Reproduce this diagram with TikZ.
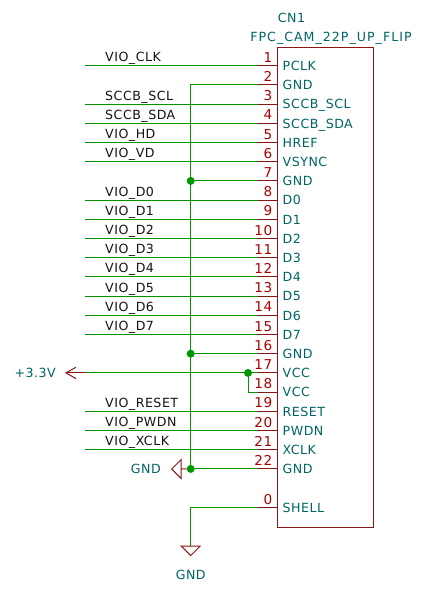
\documentclass[tikz,border=0pt]{standalone}
\usepackage{fontspec}
\setmainfont[LetterSpace=4]{DejaVu Sans}
\newfontfamily\widefont[LetterSpace=8]{DejaVu Sans}
\usetikzlibrary{calc}
\definecolor{wirec}{RGB}{0,150,0}
\definecolor{pinc}{RGB}{140,20,20}
\definecolor{pintext}{RGB}{169,0,0}
\definecolor{symtext}{RGB}{0,100,100}
\definecolor{nettext}{RGB}{20,20,20}
\newcommand{\kf}{\fontsize{12.6}{14}\selectfont}
\newcommand{\kn}{\fontsize{13.6}{14}\selectfont}
\tikzset{
  wire/.style={draw=wirec,line width=1pt},
  pinline/.style={draw=pinc,line width=1pt},
  symline/.style={draw=pinc,line width=1pt,line join=miter},
  junct/.style={circle,fill=wirec,inner sep=0pt,minimum size=8pt},
  pinnum/.style={text=pintext,font=\kn,anchor=base east,inner sep=0pt},
  pinname/.style={text=symtext,font=\kf,anchor=base west,inner sep=0pt},
  netlabel/.style={text=nettext,font=\kf,anchor=base west,inner sep=0pt},
  symlabel/.style={text=symtext,font=\kf,inner sep=0pt},
  chipbox/.style={draw=pinc,line width=1pt,fill=none,inner sep=0pt,minimum width=96pt,minimum height=480pt,anchor=north west}
}
\begin{document}
\begin{tikzpicture}[x=1pt,y=-1pt]
\useasboundingbox (0,0) rectangle (428,589);
\node[chipbox] (box) at (277.3,46.7) {};
\node[symlabel,anchor=base] (ref) at (291.5,23) {CN1};
\node[symlabel,anchor=base] (val) at (331,41) {\widefont FPC\_CAM\_22P\_UP\_FLIP};
% pins
\foreach \n/\nm in {1/PCLK,2/GND,3/SCCB\_SCL,4/SCCB\_SDA,5/HREF,6/VSYNC,7/GND,8/D0,9/D1,10/D2,11/D3,12/D4,13/D5,14/D6,15/D7,16/GND,17/VCC,18/VCC,19/RESET,20/PWDN,21/XCLK,22/GND}{
  \pgfmathsetmacro{\yy}{65.7+19.2*(\n-1)}
  \coordinate (p\n) at (258.3,\yy);
  \coordinate (b\n) at (277.3,\yy);
  \coordinate (w\n) at (85,\yy);
  \coordinate (v\n) at (190.7,\yy);
  \draw[pinline] (p\n) -- (b\n);
  \node[pinnum] (num\n) at (272.5,\yy-3.5) {\n};
  \node[pinname] (name\n) at (282.5,\yy+4.7) {\nm};
}
\coordinate (p0) at (258.3,507.7);
\coordinate (b0) at (277.3,507.7);
\draw[pinline] (p0) -- (b0);
\node[pinnum] (num0) at (272.5,504.2) {0};
\node[pinname] (name0) at (282.5,512.4) {SHELL};
% net wires and labels
\foreach \n/\lb in {1/VIO\_CLK,3/SCCB\_SCL,4/SCCB\_SDA,5/VIO\_HD,6/VIO\_VD,8/VIO\_D0,9/VIO\_D1,10/VIO\_D2,11/VIO\_D3,12/VIO\_D4,13/VIO\_D5,14/VIO\_D6,15/VIO\_D7,19/VIO\_RESET,20/VIO\_PWDN,21/VIO\_XCLK}{
  \draw[wire] (w\n) -- (p\n);
  \node[netlabel] (lab\n) at ($(w\n)+(20,-4)$) {\lb};
}
% ground bus
\draw[wire] (p2) -- (v2) -- (v22) -- (p22);
\draw[wire] (v7) -- (p7);
\draw[wire] (v16) -- (p16);
\node[junct] (j7) at (v7) {};
\node[junct] (j16) at (v16) {};
\node[junct] (j22) at (v22) {};
% +3.3V
\draw[wire] (w17) -- (p17);
\coordinate (t17) at ($(p17)+(-10.3,0)$);
\coordinate (t18) at ($(p18)+(-10.3,0)$);
\draw[wire] (t17) -- (t18) -- (p18);
\node[junct] (j17) at (t17) {};
\coordinate (a17) at ($(w17)+(-19,0)$);
\draw[symline] (w17) -- (a17);
\draw[symline] ($(a17)+(10,-5.7)$) -- (a17) -- ($(a17)+(10,5.7)$);
\node[symlabel,anchor=base east] (vcc) at ($(a17)+(-10,4.5)$) {+3.3V};
% left GND
\coordinate (g22) at (181.2,469);
\draw[symline] (j22) -- (g22);
\draw[symline] (g22) -- ($(g22)+(0,-9.5)$) -- ($(g22)+(-9.5,0)$) -- ($(g22)+(0,9.5)$) -- cycle;
\node[symlabel,anchor=base east] (gndl) at (161,473.5) {GND};
% shell GND
\coordinate (vs) at (190.7,507.7);
\coordinate (g0) at (190.7,546);
\draw[wire] (p0) -- (vs) -- (g0);
\draw[symline] (g0) -- ++(9.5,0) -- ++(-9.5,9.5) -- ++(-9.5,-9.5) -- cycle;
\node[symlabel,anchor=base] (gndb) at (190.7,579.5) {GND};
\end{tikzpicture}
\end{document}
